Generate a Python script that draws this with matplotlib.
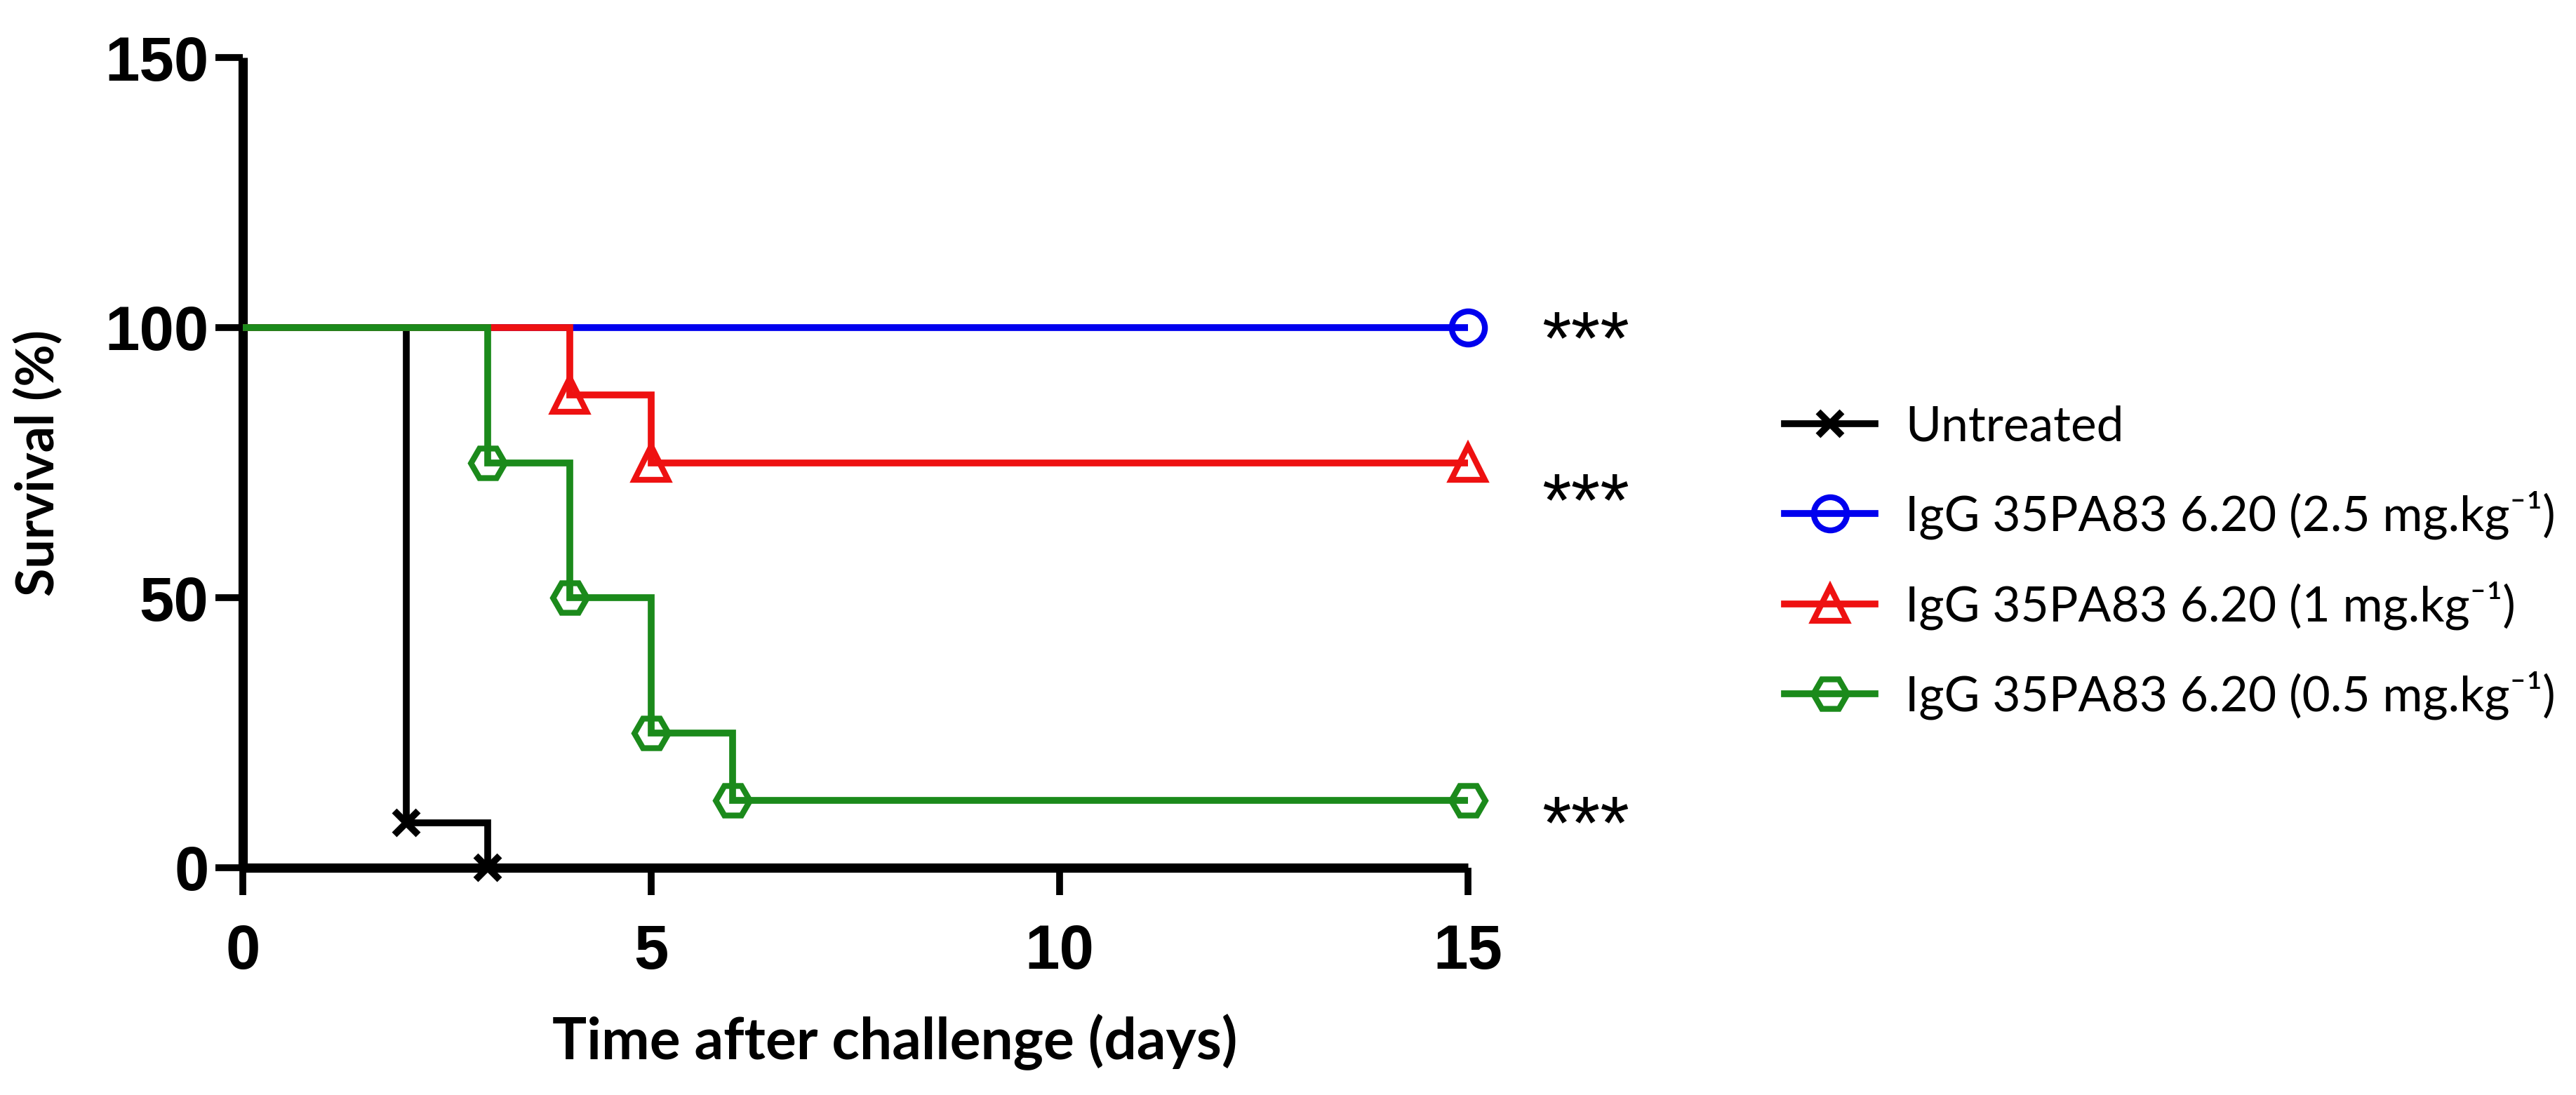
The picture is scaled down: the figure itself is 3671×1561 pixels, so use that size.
import matplotlib
matplotlib.use("Agg")
import matplotlib.pyplot as plt
from matplotlib.lines import Line2D
from matplotlib.textpath import TextPath
from matplotlib.font_manager import FontProperties

# ---------------- data ----------------
days_untreated = [0, 2, 3]
surv_untreated = [100, 8.33, 0]
days_25 = [0, 15]
surv_25 = [100, 100]
days_1 = [0, 4, 5, 15]
surv_1 = [100, 87.5, 75, 75]
days_05 = [0, 3, 4, 5, 6, 15]
surv_05 = [100, 75, 50, 25, 12.5, 12.5]

group_labels = [
    "Untreated",
    "IgG 35PA83 6.20 (2.5 mg.kg\u207b\u00b9)",
    "IgG 35PA83 6.20 (1 mg.kg\u207b\u00b9)",
    "IgG 35PA83 6.20 (0.5 mg.kg\u207b\u00b9)",
]
x_ticks = [0, 5, 10, 15]
y_ticks = [0, 50, 100, 150]
sig_labels = ["***", "***", "***"]
sig_y = [100.5, 70.5, 10.7]
sig_x = 16.44

# ---------------- style ----------------
W, H, DPI = 3671, 1561, 100
colors = ["#000000", "#0000EE", "#EE1111", "#1B8A1B"]
markers = ["x", "o", "^", "H"]
msizes = [24, 34, 34, 35]
mews = [7, 6, 6, 6]
LW = 7
zorders = [3, 4, 5, 6]

fig = plt.figure(figsize=(W / DPI, H / DPI), dpi=DPI, facecolor="white")
ax = fig.add_axes([346 / W, 1 - 1237 / H, (2092 - 346) / W, (1237 - 82) / H])

series = [
    (days_untreated, surv_untreated),
    (days_25, surv_25),
    (days_1, surv_1),
    (days_05, surv_05),
]

handles = []
for i, (t, s) in enumerate(series):
    ax.step(t, s, where="post", color=colors[i], lw=LW, zorder=zorders[i],
            clip_on=False, solid_joinstyle="miter", solid_capstyle="butt")
    ax.plot(t[1:], s[1:], linestyle="none", marker=markers[i], ms=msizes[i],
            mew=mews[i], mec=colors[i], mfc="none", zorder=zorders[i] + 0.5,
            clip_on=False)
    handles.append(Line2D([], [], color=colors[i], lw=LW, marker=markers[i],
                          ms=msizes[i], mew=mews[i], mec=colors[i], mfc="none"))

ax.set_xlim(0, 15)
ax.set_ylim(0, 150)
ax.set_xticks(x_ticks)
ax.set_yticks(y_ticks)
for side in ["top", "right"]:
    ax.spines[side].set_visible(False)
for side in ["left", "bottom"]:
    ax.spines[side].set_linewidth(9.5)
    ax.spines[side].set_capstyle("butt")
ax.tick_params(axis="both", direction="out", length=28, width=7, color="black")
ax.tick_params(axis="y", pad=7)
ax.tick_params(axis="x", pad=29)
tick_font = dict(family="Liberation Sans", weight="bold", size=64)
for lab in ax.get_xticklabels() + ax.get_yticklabels():
    lab.set_fontfamily(tick_font["family"])
    lab.set_fontweight(tick_font["weight"])
    lab.set_fontsize(tick_font["size"])

ax.set_xlabel("Time after challenge (days)", fontfamily="Lato",
              fontweight="bold", fontsize=59, va="baseline")
ax.xaxis.set_label_coords(0.532, -0.2364)
ax.set_ylabel("Survival (%)", fontfamily="Lato", fontweight="bold",
              fontsize=53, va="center")
ax.yaxis.set_label_coords(-0.1667, 0.5)

# significance stars, centred on their ink
star_fs = 77
fp = FontProperties(family="Liberation Sans", size=star_fs)
ext = TextPath((0, 0), "***", size=star_fs, prop=fp).get_extents()
cx, cy = (ext.x0 + ext.x1) / 2, (ext.y0 + ext.y1) / 2
for lab, y in zip(sig_labels, sig_y):
    ax.annotate(lab, xy=(sig_x, y), xytext=(-cx, -cy), textcoords="offset points",
                ha="left", va="baseline", fontproperties=fp,
                annotation_clip=False)

leg_fs = 50
fs_px = leg_fs * DPI / 72
leg = ax.legend(handles, group_labels, loc="center left",
                bbox_to_anchor=(2543 / W, 1 - 802 / H),
                bbox_transform=fig.transFigure, frameon=False, numpoints=1,
                handlelength=129 / fs_px, handletextpad=43 / fs_px,
                labelspacing=0.85, borderpad=0, borderaxespad=0,
                prop=dict(family=["Lato", "DejaVu Sans"], size=leg_fs))

fig.savefig("out.png", dpi=DPI, facecolor="white")
